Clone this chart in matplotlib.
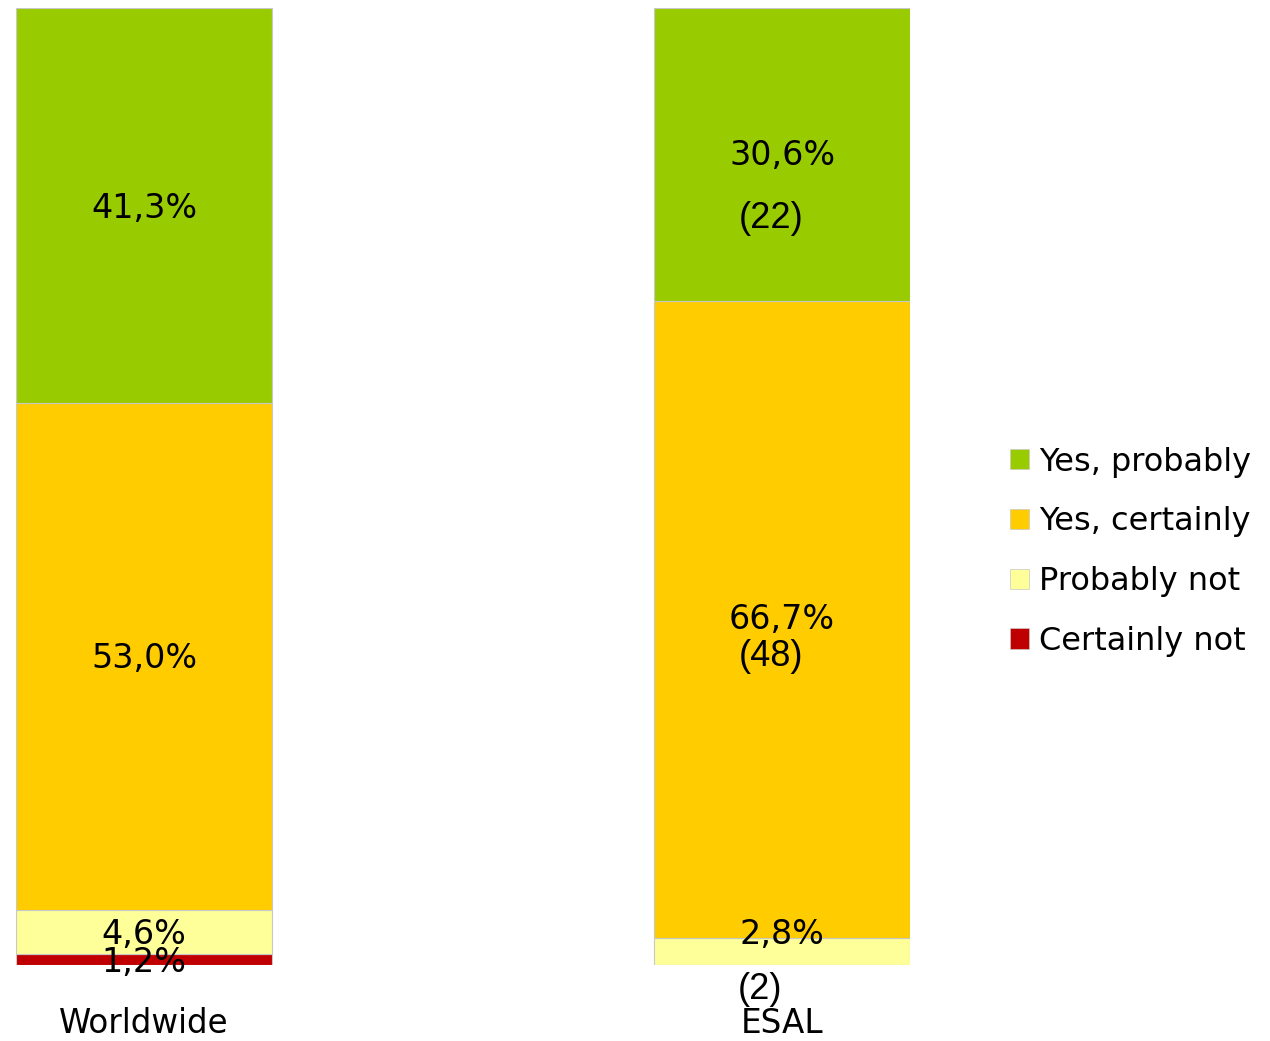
import matplotlib
matplotlib.use("Agg")
import matplotlib.pyplot as plt
from matplotlib.patches import Patch

# data
groups = ["Worldwide", "ESAL"]
answers = ["Certainly not", "Probably not", "Yes, certainly", "Yes, probably"]
colors = ["#C00000", "#FFFF99", "#FFCC00", "#99CC00"]
pct = {
    "Certainly not":  [1.2, 0.0],
    "Probably not":   [4.6, 2.8],
    "Yes, certainly": [53.0, 66.7],
    "Yes, probably":  [41.3, 30.6],
}
counts_esal = {"Probably not": 2, "Yes, certainly": 48, "Yes, probably": 22}

fig = plt.figure(figsize=(12.7, 10.41), dpi=100)
ax = fig.add_axes([16 / 1270, 76 / 1041, 894 / 1270, 957 / 1041])

w = 0.401
x = list(range(len(groups)))
bottoms = [0.0, 0.0]
for ans, col in zip(answers, colors):
    vals = pct[ans]
    ax.bar(x, vals, width=w, bottom=bottoms, color=col,
           edgecolor="#c8c8c8", linewidth=0.8)
    for i, v in enumerate(vals):
        if v <= 0:
            continue
        mid = bottoms[i] + v / 2
        if i == 0:
            ax.annotate(f"{v:.1f}%".replace(".", ","), (x[i], mid),
                        xytext=(0, -2), textcoords="offset points",
                        ha="center", va="center", fontsize=24)
        else:
            # ESAL: percent label with the count under it
            if ans == "Probably not":
                dy_p, dy_c, dx_c = 12, -27, -16
            elif ans == "Yes, certainly":
                dy_p, dy_c, dx_c = 0, -27, -8
            else:
                dy_p, dy_c, dx_c = -1, -46, -8
            ax.annotate(f"{v:.1f}%".replace(".", ","), (x[i], mid),
                        xytext=(0, dy_p), textcoords="offset points",
                        ha="center", va="center", fontsize=24)
            ax.annotate(f"({counts_esal[ans]})", (x[i], mid),
                        xytext=(dx_c, dy_c), textcoords="offset points",
                        ha="center", va="center", fontsize=26,
                        family="Liberation Sans")
    bottoms = [b + v for b, v in zip(bottoms, vals)]

ax.set_xlim(-w / 2, 1 + w / 2)
ax.set_ylim(0, 100.1)
ax.set_xticks(x)
ax.set_xticklabels(groups, fontsize=23.5)
ax.tick_params(axis="x", length=0, pad=30)
ax.set_yticks([])
for s in ax.spines.values():
    s.set_visible(False)

handles = [Patch(facecolor=c, edgecolor="#c8c8c8", linewidth=0.5, label=a)
           for a, c in zip(answers, colors)][::-1]
fig.legend(handles=handles, loc="center left", bbox_to_anchor=(1010 / 1270, 0.47),
           frameon=False, fontsize=23, handlelength=0.6, handleheight=0.6,
           handletextpad=0.3, labelspacing=0.9, borderpad=0, borderaxespad=0)

fig.savefig("out.png", dpi=100)
